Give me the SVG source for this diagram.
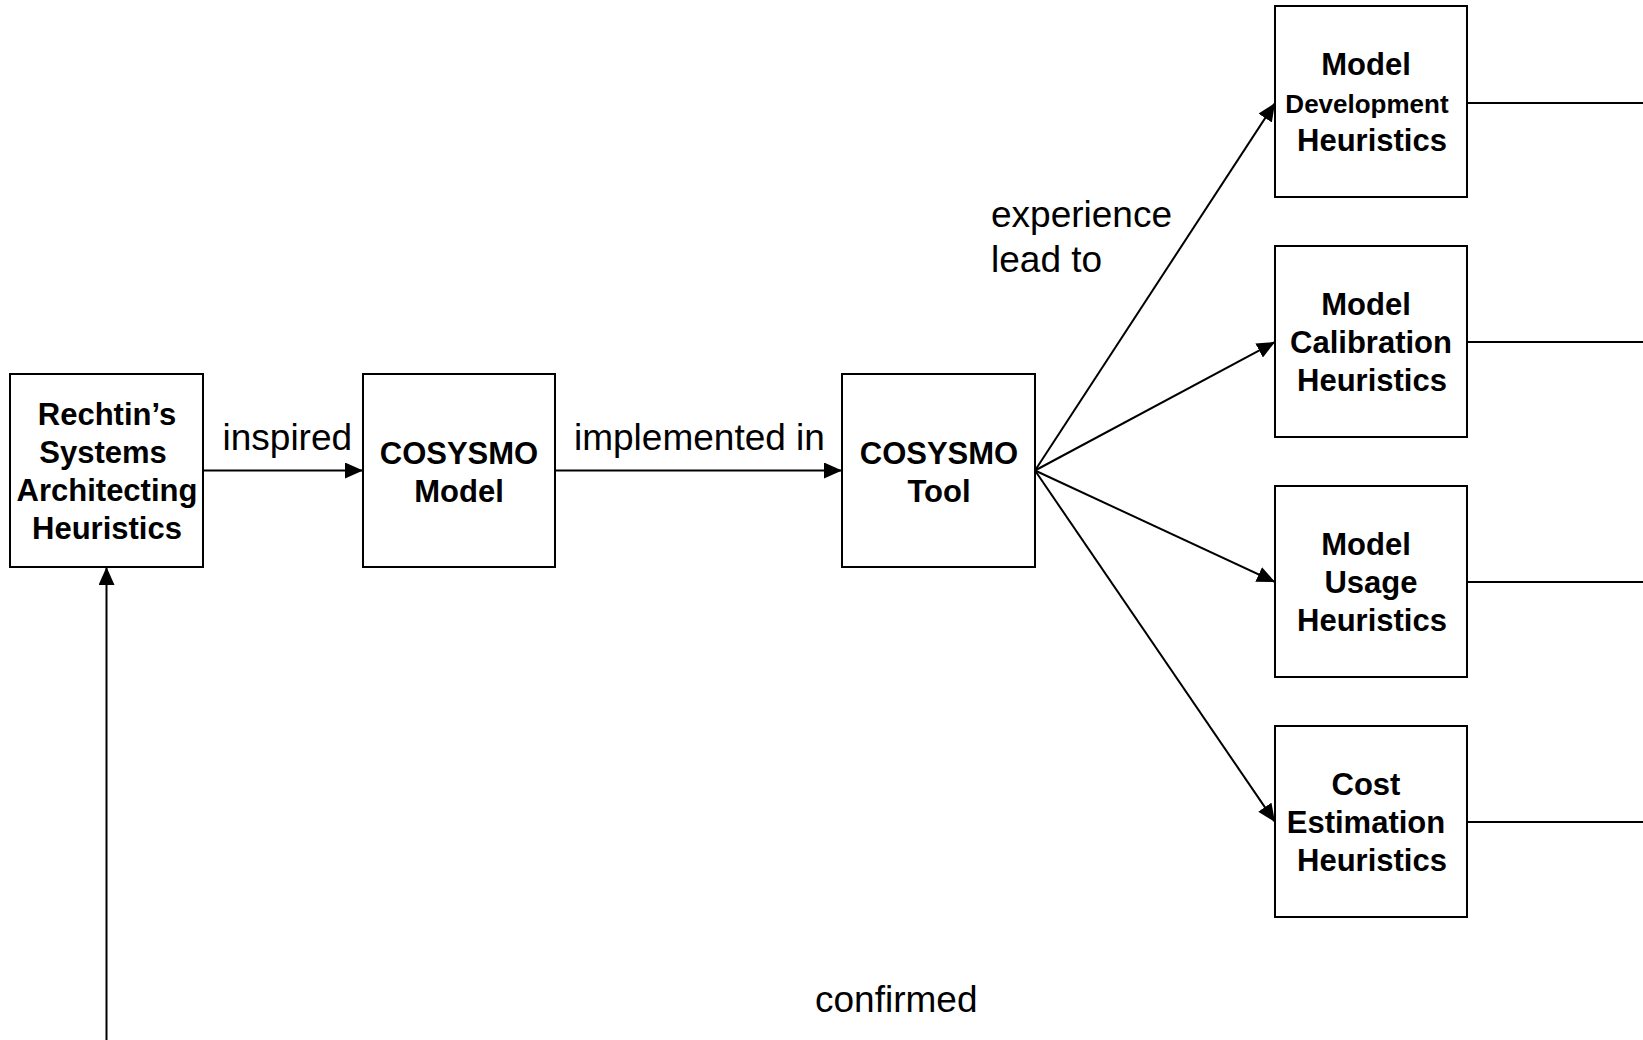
<svg xmlns="http://www.w3.org/2000/svg" width="1643" height="1040" viewBox="0 0 1643 1040">
<style>
.box{fill:#fff;stroke:#000;stroke-width:2}
.b{font-family:"Liberation Sans",Arial,sans-serif;font-weight:bold;font-size:31px;fill:#000;text-anchor:middle}
.s{font-size:26px}
.lbl{font-family:"Liberation Sans",Arial,sans-serif;font-size:37px;fill:#000}
.c{fill:none;stroke:#000;stroke-width:2}
</style>
<defs>
<marker id="ah" markerWidth="9" markerHeight="8" refX="9" refY="4" orient="auto">
<path d="M0,0 L9,4 L0,8 z" fill="#000"/>
</marker>
</defs>
<rect width="1643" height="1040" fill="#fff"/>
<g id="connectors">
<line class="c" x1="203" y1="470.5" x2="363" y2="470.5" marker-end="url(#ah)"/>
<line class="c" x1="555" y1="470.5" x2="842" y2="470.5" marker-end="url(#ah)"/>
<line class="c" x1="1035" y1="470.5" x2="1275" y2="103" marker-end="url(#ah)"/>
<line class="c" x1="1035" y1="470.5" x2="1275" y2="342" marker-end="url(#ah)"/>
<line class="c" x1="1035" y1="470.5" x2="1275" y2="582" marker-end="url(#ah)"/>
<line class="c" x1="1035" y1="470.5" x2="1275" y2="822" marker-end="url(#ah)"/>
<line class="c" x1="1467" y1="103" x2="1643" y2="103"/>
<line class="c" x1="1467" y1="342" x2="1643" y2="342"/>
<line class="c" x1="1467" y1="582" x2="1643" y2="582"/>
<line class="c" x1="1467" y1="822" x2="1643" y2="822"/>
<line class="c" x1="106.5" y1="1040" x2="106.5" y2="567" marker-end="url(#ah)"/>
<text class="lbl" x="222.5" y="450">inspired</text>
<text class="lbl" x="574" y="450">implemented in</text>
<text class="lbl" x="991" y="226.5">experience</text>
<text class="lbl" x="991" y="271.5">lead to</text>
<text class="lbl" x="815" y="1012">confirmed</text>
</g>
<g id="rechtin">
<rect class="box" x="10" y="374" width="193" height="193"/>
<text class="b" x="107" y="424.5">Rechtin’s</text>
<text class="b" x="103" y="462.5">Systems</text>
<text class="b" x="107" y="500.5">Architecting</text>
<text class="b" x="107" y="538.5">Heuristics</text>
</g>
<g id="cosysmo-model">
<rect class="box" x="363" y="374" width="192" height="193"/>
<text class="b" x="459" y="463.5">COSYSMO</text>
<text class="b" x="459" y="501.5">Model</text>
</g>
<g id="cosysmo-tool">
<rect class="box" x="842" y="374" width="193" height="193"/>
<text class="b" x="939" y="463.5">COSYSMO</text>
<text class="b" x="939" y="501.5">Tool</text>
</g>
<g id="model-development">
<rect class="box" x="1275" y="6" width="192" height="191"/>
<text class="b" x="1366" y="75">Model</text>
<text class="b s" x="1367" y="112.5">Development</text>
<text class="b" x="1372" y="150.5">Heuristics</text>
</g>
<g id="model-calibration">
<rect class="box" x="1275" y="246" width="192" height="191"/>
<text class="b" x="1366" y="315">Model</text>
<text class="b" x="1371" y="353">Calibration</text>
<text class="b" x="1372" y="390.5">Heuristics</text>
</g>
<g id="model-usage">
<rect class="box" x="1275" y="486" width="192" height="191"/>
<text class="b" x="1366" y="555">Model</text>
<text class="b" x="1371" y="593">Usage</text>
<text class="b" x="1372" y="630.5">Heuristics</text>
</g>
<g id="cost-estimation">
<rect class="box" x="1275" y="726" width="192" height="191"/>
<text class="b" x="1366" y="795">Cost</text>
<text class="b" x="1366" y="833">Estimation</text>
<text class="b" x="1372" y="870.5">Heuristics</text>
</g>
</svg>
